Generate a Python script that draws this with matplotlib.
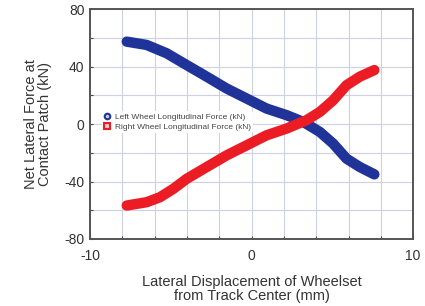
import matplotlib
matplotlib.use("Agg")
import matplotlib.pyplot as plt
from matplotlib import font_manager

names = {f.name for f in font_manager.fontManager.ttflist}
fam = ["Liberation Sans Narrow", "DejaVu Sans"] if "Liberation Sans Narrow" in names else ["Liberation Sans", "DejaVu Sans"]
plt.rcParams["font.family"] = fam
plt.rcParams["axes.unicode_minus"] = False

left_x = [-7.73, -6.5, -5.26, -4.02, -2.78, -1.55, -0.31, 0.93, 2.17, 3.2, 4.23, 5.05, 5.88, 6.7, 7.6]
left_y = [57.4, 55.1, 49.3, 41.1, 33.0, 24.8, 17.8, 10.8, 6.2, 1.5, -5.5, -13.6, -24.1, -29.9, -35.0]
right_x = [-7.73, -6.5, -5.67, -4.85, -4.02, -2.78, -1.55, -0.31, 0.93, 2.17, 3.4, 4.23, 5.05, 5.88, 6.7, 7.6]
right_y = [-56.7, -54.4, -50.9, -45.1, -38.1, -29.9, -21.8, -14.8, -7.8, -3.1, 2.7, 8.5, 16.6, 27.1, 33.0, 37.6]

xticks = [-10, 0, 10]
yticks = [-80, -40, 0, 40, 80]

blue = "#1f3399"
red = "#ec1c24"

fig = plt.figure(figsize=(4.25, 3.06), dpi=100)
ax = fig.add_axes([0.212, 0.219, 0.760, 0.751])

ax.plot(left_x, left_y, color=blue, lw=7.5, solid_capstyle="round", solid_joinstyle="round", zorder=3)
ax.plot(right_x, right_y, color=red, lw=7.5, solid_capstyle="round", solid_joinstyle="round", zorder=4)

# legend proxies
ax.plot([], [], ls="none", marker="o", ms=4, mfc="#c8c8e8", mec=blue, mew=1.5, label="Left Wheel Longitudinal Force (kN)")
ax.plot([], [], ls="none", marker="s", ms=4, mfc="#f6c8c8", mec=red, mew=1.5, label="Right Wheel Longitudinal Force (kN)")
leg = ax.legend(loc="upper left", bbox_to_anchor=(0.025, 0.575), frameon=True, fontsize=6,
                handlelength=0.8, handletextpad=0.5, labelspacing=0.35, borderpad=0.2,
                framealpha=1, edgecolor="none", facecolor="white")
leg.set_zorder(5)
for t in leg.get_texts():
    t.set_color("#444444")

ax.set_xlim(-10, 10)
ax.set_ylim(-80, 80)
ax.set_xticks(xticks)
ax.set_yticks(yticks)
ax.set_xticks(range(-10, 11, 2), minor=True)
ax.set_yticks(range(-80, 81, 20), minor=True)
ax.grid(True, which="both", color="#cdd0e6", lw=0.8, zorder=0)
ax.set_axisbelow(True)
ax.tick_params(which="both", direction="in", length=2.5, width=0.8, color="#444444", labelsize=10)
ax.tick_params(axis="x", pad=7)
ax.tick_params(axis="y", pad=4)
for s in ax.spines.values():
    s.set_color("#555555")
    s.set_linewidth(1.4)

ax.set_xlabel("Lateral Displacement of Wheelset\nfrom Track Center (mm)", fontsize=10.5, color="#333333", labelpad=9, linespacing=1.0)
ax.set_ylabel("Net Lateral Force at\nContact Patch (kN)", fontsize=10.5, color="#333333", labelpad=9, linespacing=1.0)
for t in ax.get_xticklabels() + ax.get_yticklabels():
    t.set_color("#333333")

fig.savefig("out.png", dpi=100)
